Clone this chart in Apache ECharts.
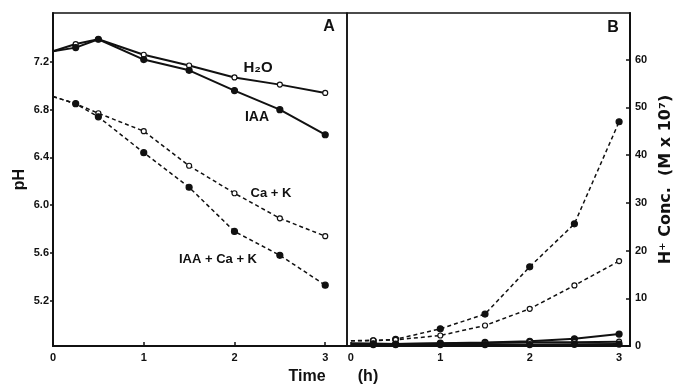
<!DOCTYPE html>
<html>
<head>
<meta charset="utf-8">
<script src="https://cdn.jsdelivr.net/npm/echarts@6/dist/echarts.min.js"></script>
<style>
  html, body { margin: 0; padding: 0; background: #fff; }
  #chart { width: 675px; height: 388px; }
</style>
</head>
<body>
<div id="chart"></div>
<script>
// time points (h)
var times = [0, 0.25, 0.5, 1, 1.5, 2, 2.5, 3];

// panel A: pH
var phH2O = [7.29, 7.35, 7.39, 7.26, 7.17, 7.07, 7.01, 6.94];
var phIAA = [7.29, 7.32, 7.39, 7.22, 7.13, 6.96, 6.80, 6.59];
var phCaK = [6.91, 6.85, 6.77, 6.62, 6.33, 6.10, 5.89, 5.74];
var phIAACaK = [6.91, 6.85, 6.74, 6.44, 6.15, 5.78, 5.58, 5.33];

// panel B: H+ conc (M x 10^7)
var concIAACaK = [1.1, 1.1, 1.4, 3.6, 6.7, 16.6, 25.6, 47.0];
var concCaK = [1.1, 1.2, 1.3, 2.2, 4.3, 7.8, 12.7, 17.8];
var concIAA = [0.5, 0.45, 0.4, 0.6, 0.75, 1.0, 1.5, 2.5];
var concH2O = [0.5, 0.45, 0.4, 0.55, 0.65, 0.8, 0.8, 0.9];
var concLow = [0.3, 0.3, 0.3, 0.3, 0.3, 0.3, 0.35, 0.4];

// tick labels
var phTicks = [5.2, 5.6, 6.0, 6.4, 6.8, 7.2];
var timeTicks = [0, 1, 2, 3];
var concTicks = [0, 10, 20, 30, 40, 50, 60];

var ink = '#111';
var font = 'Liberation Sans';

function pts(ys) {
    return ys.map(function (y, i) {
        var d = { value: [times[i], y] };
        if (i === 0) d.symbol = 'none';
        return d;
    });
}

function line(idx, ys, filled, dashed) {
    return {
        type: 'line',
        xAxisIndex: idx,
        yAxisIndex: idx,
        data: pts(ys),
        symbol: 'circle',
        symbolSize: filled ? 6 : 5,
        itemStyle: { color: filled ? ink : '#fff', borderColor: ink, borderWidth: 1.2 },
        lineStyle: { color: ink, width: dashed ? 1.5 : 2, type: dashed ? [4, 3] : 'solid' },
        animation: false,
        z: 3
    };
}

var labelStyle = { fontFamily: font, fontWeight: 'bold', fontSize: 11, color: ink };

function txt(x, y, s, size) {
    return {
        type: 'text', x: x, y: y,
        style: { text: s, fontFamily: font, fontWeight: 'bold', fontSize: size || 14, fill: ink, align: 'center', verticalAlign: 'middle' }
    };
}

var chart = echarts.init(document.getElementById('chart'));
chart.setOption({
    animation: false,
    backgroundColor: '#fff',
    grid: [
        { left: 53, top: 13, width: 294, height: 333, show: true, borderColor: ink, borderWidth: 1.5 },
        { left: 347, top: 13, width: 285, height: 333, show: true, borderColor: ink, borderWidth: 1.5 }
    ],
    xAxis: [
        {
            type: 'value', gridIndex: 0, min: 0, max: 3.24,
            splitLine: { show: false },
            axisLine: { onZero: false, lineStyle: { color: ink, width: 2 } },
            axisTick: { inside: true, length: 4, customValues: timeTicks, lineStyle: { color: ink, width: 1.5 } },
            axisLabel: Object.assign({ customValues: timeTicks, margin: 6 }, labelStyle)
        },
        {
            type: 'value', gridIndex: 1, min: -0.044, max: 3.122,
            splitLine: { show: false },
            axisLine: { onZero: false, lineStyle: { color: ink, width: 2 } },
            axisTick: { inside: true, length: 4, customValues: timeTicks, lineStyle: { color: ink, width: 1.5 } },
            axisLabel: Object.assign({ customValues: timeTicks, margin: 6 }, labelStyle)
        }
    ],
    yAxis: [
        {
            type: 'value', gridIndex: 0, min: 4.82, max: 7.61,
            name: 'pH', nameLocation: 'middle', nameGap: 25,
            nameTextStyle: { fontFamily: font, fontWeight: 'bold', fontSize: 16, color: ink },
            splitLine: { show: false },
            axisLine: { onZero: false, lineStyle: { color: ink, width: 2 } },
            axisTick: { length: 3, customValues: phTicks, lineStyle: { color: ink, width: 1.5 } },
            axisLabel: Object.assign({ customValues: phTicks, margin: 4, formatter: function (v) { return v.toFixed(1); } }, labelStyle)
        },
        {
            type: 'value', gridIndex: 1, position: 'right', min: 0, max: 69.8,
            name: 'H\u207A Conc.  (M x 10\u2077)', nameLocation: 'middle', nameGap: 28, nameRotate: 90,
            nameTextStyle: { fontFamily: 'DejaVu Sans', fontWeight: 'bold', fontSize: 16, color: ink },
            splitLine: { show: false },
            axisLine: { onZero: false, lineStyle: { color: ink, width: 2 } },
            axisTick: { inside: true, length: 4, customValues: concTicks, lineStyle: { color: ink, width: 1.5 } },
            axisLabel: Object.assign({ customValues: concTicks, margin: 5 }, labelStyle)
        }
    ],
    series: [
        line(0, phH2O, false, false),
        line(0, phIAA, true, false),
        line(0, phCaK, false, true),
        line(0, phIAACaK, true, true),
        line(1, concIAACaK, true, true),
        line(1, concCaK, false, true),
        line(1, concIAA, true, false),
        line(1, concH2O, false, false),
        line(1, concLow, true, false)
    ],
    graphic: [
        txt(329, 27, 'A', 16),
        txt(613, 28, 'B', 16),
        txt(258, 68, 'H\u2082O', 15),
        txt(257, 117, 'IAA', 14),
        txt(271, 193, 'Ca + K', 13),
        txt(218, 259, 'IAA + Ca + K', 13),
        txt(307, 377, 'Time', 16),
        txt(368, 377, '(h)', 16)
    ]
});
</script>
</body>
</html>
